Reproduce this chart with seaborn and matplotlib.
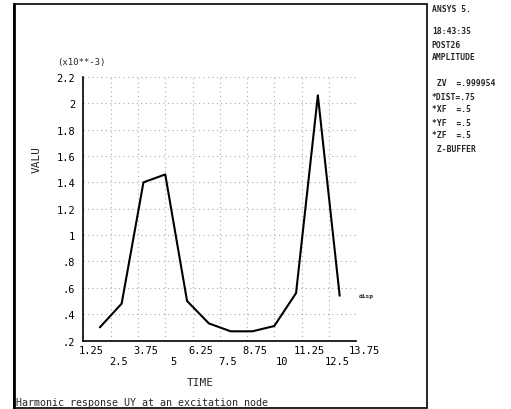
import matplotlib
matplotlib.use('Agg')
import matplotlib.pyplot as plt
import matplotlib.transforms as mtransforms
from matplotlib.patches import Rectangle
import seaborn as sns
import pandas as pd

# Donnees (amplitude x1e-3)
time = [2, 3, 4, 5, 6, 7, 8, 9, 10, 11, 12, 13]
valu = [0.30, 0.48, 1.40, 1.46, 0.50, 0.33, 0.27, 0.27, 0.31, 0.56, 2.06, 0.54]

x_ticks = [1.25, 2.5, 3.75, 5, 6.25, 7.5, 8.75, 10, 11.25, 12.5, 13.75]
x_labels = ['1.25', '2.5', '3.75', '5', '6.25', '7.5', '8.75', '10', '11.25', '12.5', '13.75']
y_ticks = [0.2, 0.4, 0.6, 0.8, 1.0, 1.2, 1.4, 1.6, 1.8, 2.0, 2.2]
y_labels = ['.2', '.4', '.6', '.8', '1', '1.2', '1.4', '1.6', '1.8', '2', '2.2']

info_lines = ['ANSYS 5.', '18:43:35', 'POST26', 'AMPLITUDE',
              ' ZV  =.999954', '*DIST=.75', '*XF  =.5', '*YF  =.5', '*ZF  =.5', ' Z-BUFFER']
info_rows = [10, 32, 45, 58, 84, 97, 110, 123, 136, 149]  # position verticale en pixels

df = pd.DataFrame({'TIME': time, 'VALU': valu})

sns.set_style('white')
plt.rcParams['font.family'] = ['DejaVu Sans Mono', 'DejaVu Sans']

fig = plt.figure(figsize=(5.11, 4.10), dpi=100)
ax = fig.add_axes([0.1634, 0.167, 0.5333, 0.643])

sns.lineplot(x='TIME', y='VALU', data=df, color='black', linewidth=1.5, ax=ax)

ax.set_xlim(1.25, 13.75)
ax.set_ylim(0.2, 2.2)

# etiquettes en quinconce sur deux lignes
ax.set_xticks(x_ticks)
ax.set_xticklabels([lab if i % 2 == 0 else '\n' + lab for i, lab in enumerate(x_labels)])
ax.set_yticks(y_ticks)
ax.set_yticklabels(y_labels)
ax.tick_params(axis='both', length=0, labelsize=7.5, colors='black')
ax.tick_params(axis='x', pad=3)
ax.tick_params(axis='y', pad=6)
shift = mtransforms.ScaledTranslation(0.08, 0, fig.dpi_scale_trans)
for lab in ax.get_xticklabels():
    lab.set_transform(lab.get_transform() + shift)

ax.grid(True, linestyle=(0, (1, 3)), color='#666666', linewidth=0.8, alpha=0.55)
for side in ['top', 'right']:
    ax.spines[side].set_visible(False)
for side in ['left', 'bottom']:
    ax.spines[side].set_color('black')
    ax.spines[side].set_linewidth(1.2)

ax.set_xlabel('TIME', fontsize=8)
ax.set_ylabel('VALU', fontsize=8)
ax.xaxis.set_label_coords(0.43, -0.14)
ax.yaxis.set_label_coords(-0.152, 0.69)
ax.text(-0.095, 1.06, '(x10**-3)', transform=ax.transAxes, fontsize=6.5, ha='left', va='center')

ax.annotate('disp', xy=(time[-1], valu[-1]), xytext=(14, 0), textcoords='offset points',
            fontsize=4.5, fontweight='bold', va='center', ha='left')

# cadre exterieur facon ANSYS
fig.patches.append(Rectangle((0.0274, 0.0024), 0.8082, 0.9854, transform=fig.transFigure,
                             fill=False, edgecolor='black', linewidth=1.2))
fig.add_artist(plt.Line2D([0.0274, 0.0274], [0.0024, 0.988], transform=fig.transFigure,
                          color='black', linewidth=2))
fig.text(0.032, 0.017, 'Harmonic response UY at an excitation node', fontsize=7.2, va='center')

for line, row in zip(info_lines, info_rows):
    fig.text(0.845, 1 - row / 410, line, fontsize=5.8, fontweight='bold', va='center', ha='left')

fig.savefig('out.png', dpi=100)
